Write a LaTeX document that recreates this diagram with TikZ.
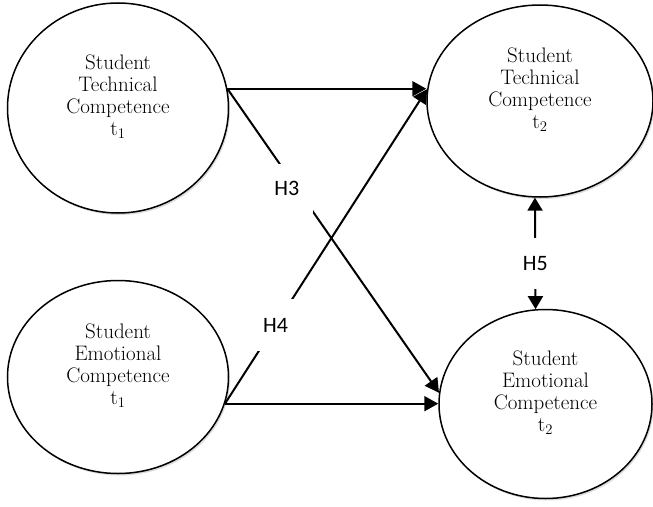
\documentclass[tikz,border=0pt]{standalone}
\usepackage{fontspec}
\usepackage{tikz}
\usetikzlibrary{positioning,shapes,arrows.meta,shadows}
\newfontfamily\hypfont{Carlito}
\tikzstyle{construct} = [ellipse, draw, line width=1.5pt, fill=white, align=center, inner sep=0pt, font=\fontsize{21}{22}\selectfont, drop shadow={shadow xshift=1.5pt, shadow yshift=-2pt, fill=black!40, opacity=0.35}]
\tikzstyle{line} = [draw, line width=2pt, -{Triangle[length=14pt,width=15pt]}]
\tikzstyle{both} = [draw, line width=2pt, {Triangle[length=13pt,width=15pt]}-{Triangle[length=13pt,width=15pt]}]
\tikzstyle{hyp} = [fill=white, inner sep=0pt, font=\hypfont\fontsize{22}{24}\selectfont]
\newcommand{\ctext}[2]{Student\\#1\\Competence\\t\textsubscript{#2}\\[3pt]~}

\begin{document}
\begin{tikzpicture}[x=1pt, y=1pt]
\useasboundingbox (0,0) rectangle (653,-506);
% Constructs at t1
    \node [construct, minimum width=221pt, minimum height=210pt] (tech1) at (118,-108) {\ctext{Technical}{1}};
    \node [construct, minimum width=221pt, minimum height=193pt, below=66pt of tech1] (emo1) {\ctext{Emotional}{1}};
% Constructs at t2
    \node [construct, minimum width=226pt, minimum height=192pt, right=197pt of tech1, yshift=7pt] (tech2) {\ctext{Technical}{2}};
    \node [construct, minimum width=213pt, minimum height=189pt, below=111pt of tech2, xshift=5.5pt] (emo2) {\ctext{Emotional}{2}};
% Hypothesised paths
    \path [line] (tech1.10) -- (tech1.10 -| tech2.west);
    \path [line] (emo1.-14) -- (emo1.-14 -| emo2.west);
    \path [line] (tech1.10) -- node [hyp, pos=0.328, xshift=-10pt, minimum width=52pt, minimum height=49pt] (h3) {H3} (emo2.174);
    \path [line] (emo1.-14) -- node [hyp, pos=0.25, minimum width=40pt, minimum height=52pt] (h4) {H4} (tech2.174);
    \path [both] (tech2.267) -- node [hyp, pos=0.59, minimum width=30pt, minimum height=51pt] (h5) {H5} (emo2.96);
\end{tikzpicture}
\end{document}
